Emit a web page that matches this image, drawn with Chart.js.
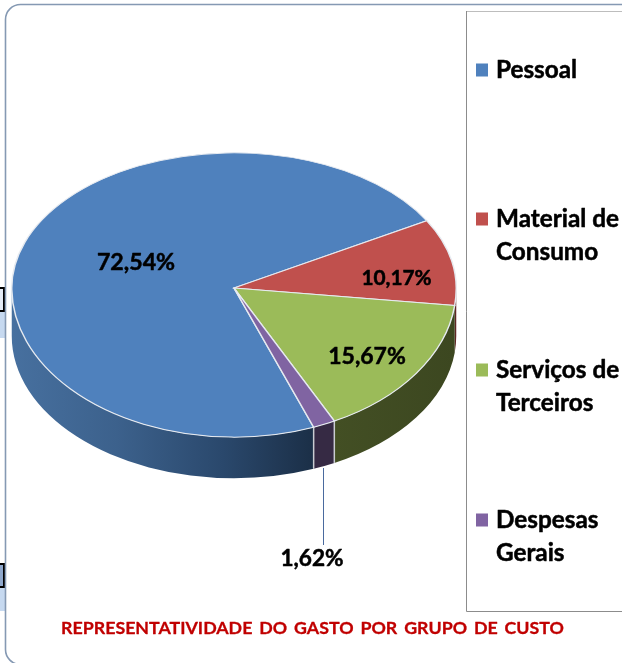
<!DOCTYPE html>
<html>
<head>
<meta charset="utf-8">
<style>html,body{margin:0;padding:0;background:#fff;overflow:hidden}canvas{display:block}</style>
<script src="https://cdn.jsdelivr.net/npm/chart.js@4"></script>
</head>
<body>
<canvas id="c" width="622" height="663"></canvas>
<script>
const categories = ['Pessoal', 'Material de Consumo', 'Serviços de Terceiros', 'Despesas Gerais'];
const shares = [72.54, 10.17, 15.67, 1.62];
const legendLines = [['Pessoal'], ['Material de', 'Consumo'], ['Serviços de', 'Terceiros'], ['Despesas', 'Gerais']];
const titleText = 'REPRESENTATIVIDADE DO GASTO POR GRUPO DE CUSTO';

const topColors = ['#4f81bd', '#c0504d', '#9bbb59', '#8064a2'];
const sideStops = [
  [[0, '#47709f'], [0.35, '#3c618c'], [0.7, '#2a486c'], [1, '#1b2f47']],
  [[0, '#5e2624'], [1, '#5e2624']],
  [[0, '#3c4720'], [1, '#434f24']],
  [[0, '#362a44'], [1, '#362a44']]
];
const FONT = 'Lato, Carlito, sans-serif';
const labelBoxes = [{x:136,y:263,s:23.2},{x:396.5,y:278,s:20.8},{x:367,y:357,s:23},{x:312,y:559,s:22.6}];
const legendRows = [70.5, 219.5, 370.5, 520.5];

function boldText(ctx, t, x, y, w) {
  ctx.lineWidth = w;
  ctx.lineJoin = 'round';
  ctx.strokeStyle = ctx.fillStyle;
  ctx.strokeText(t, x, y);
  ctx.fillText(t, x, y);
}

const fauxPie = {
  id: 'fauxPie',
  beforeDraw(chart) {
    const ctx = chart.ctx;
    ctx.save();
    ctx.fillStyle = '#fff';
    ctx.fillRect(0, 0, 622, 663);
    // fragments of neighbouring shapes at the left edge
    ctx.fillStyle = '#c6d9f0'; ctx.fillRect(0, 312, 5, 26); ctx.fillRect(0, 588, 5, 23);
    ctx.fillStyle = '#e4ebf5'; ctx.fillRect(0, 288, 3, 23);
    ctx.fillStyle = '#8fa8cc'; ctx.fillRect(0, 564, 3, 23);
    ctx.fillStyle = '#000';
    [[287, 312], [563, 588]].forEach(([a, b]) => {
      ctx.fillRect(0, a, 4, 2); ctx.fillRect(0, b - 2, 4, 2); ctx.fillRect(3, a, 2, b - a);
    });
    // outer frame
    ctx.strokeStyle = '#8599b3'; ctx.lineWidth = 1.6;
    ctx.beginPath(); ctx.roundRect(5.5, 4.5, 720, 660, 15); ctx.stroke();
    // legend frame
    ctx.strokeStyle = '#bdbdbd'; ctx.lineWidth = 1;
    ctx.beginPath(); ctx.moveTo(466, 11.5); ctx.lineTo(622, 11.5); ctx.stroke();
    ctx.strokeStyle = '#8c8c8c';
    ctx.beginPath(); ctx.moveTo(466.5, 11); ctx.lineTo(466.5, 611.5); ctx.lineTo(622, 611.5); ctx.stroke();
    ctx.restore();
  },
  beforeDatasetsDraw(chart) {
    const ctx = chart.ctx;
    const arcs = chart.getDatasetMeta(0).data;
    const cx = arcs[0].x, cy = arcs[0].y, r = arcs[0].outerRadius;
    const ryTop = r * 0.608, ryBottom = r * 0.671;
    const depthCy = cy + 48, depthRy = r * 0.64;
    const TAU = Math.PI * 2;

    // extruded rim, from the library's computed arc angles
    ctx.save();
    arcs.forEach((arc, i) => {
      let a = arc.startAngle % TAU, b = arc.endAngle % TAU;
      if (a < 0) a += TAU;
      if (b < 0) b += TAU;
      const ranges = a < b ? [[a, b]] : [[a, TAU], [0, b]];
      ranges.forEach(([s, e]) => {
        const s2 = Math.min(s, Math.PI), e2 = Math.min(e, Math.PI);
        if (e2 <= s2) return;
        const g = ctx.createLinearGradient(cx + r * Math.cos(s2), 0, cx + r * Math.cos(e2), 0);
        const stops = sideStops[i];
        const reversed = i === 0;
        stops.forEach(([p, c]) => g.addColorStop(reversed ? 1 - p : p, c));
        ctx.fillStyle = g;
        ctx.beginPath();
        ctx.ellipse(cx, cy, r, ryBottom, 0, s2, e2);
        ctx.ellipse(cx, depthCy, r, depthRy, 0, e2, s2, true);
        ctx.closePath();
        ctx.fill();
      });
    });
    // separators on the rim
    ctx.strokeStyle = '#c9ccd2'; ctx.lineWidth = 1.5;
    arcs.forEach(arc => {
      let a = arc.startAngle % TAU;
      if (a < 0) a += TAU;
      if (a > 0.4 && a < Math.PI) {
        const x = cx + r * Math.cos(a);
        ctx.beginPath();
        ctx.moveTo(x, cy + ryBottom * Math.sin(a));
        ctx.lineTo(x, depthCy + depthRy * Math.sin(a));
        ctx.stroke();
      }
    });
    ctx.restore();

    // top face: library arcs, drawn through a flattening transform
    [[0, cy, ryTop], [cy, 663, ryBottom]].forEach(([y0, y1, ry]) => {
      ctx.save();
      ctx.beginPath(); ctx.rect(0, y0, 622, y1 - y0); ctx.clip();
      ctx.translate(cx, cy); ctx.scale(1, ry / r); ctx.translate(-cx, -cy);
      arcs.forEach(arc => arc.draw(ctx));
      ctx.restore();
    });
    return false;
  },
  afterDraw(chart) {
    const ctx = chart.ctx;
    const data = chart.data.datasets[0].data;
    ctx.save();
    // leader line
    ctx.strokeStyle = '#4a6a9e'; ctx.lineWidth = 1;
    ctx.beginPath(); ctx.moveTo(323.5, 468); ctx.lineTo(323.5, 545); ctx.stroke();
    ctx.textAlign = 'center'; ctx.textBaseline = 'middle'; ctx.fillStyle = '#000';
    data.forEach((v, i) => {
      const b = labelBoxes[i];
      ctx.font = 'bold ' + b.s + 'px ' + FONT;
      boldText(ctx, v.toFixed(2).replace('.', ',') + '%', b.x, b.y, 0.5);
    });
    // legend
    ctx.textAlign = 'left';
    legendLines.forEach((lines, i) => {
      const y = legendRows[i];
      ctx.fillStyle = topColors[i];
      ctx.fillRect(476, y - 7, 12, 13);
      ctx.fillStyle = '#000';
      ctx.font = 'bold 24.3px ' + FONT;
      lines.forEach((t, k) => boldText(ctx, t, 496, y + k * 33, 0.5));
    });
    // title
    ctx.textAlign = 'center';
    ctx.fillStyle = '#c00000';
    ctx.font = 'bold 17.8px ' + FONT;
    ctx.wordSpacing = '2.6px';
    boldText(ctx, titleText, 312.5, 628, 0.3);
    ctx.restore();
  }
};

new Chart(document.getElementById('c'), {
  type: 'pie',
  data: {
    labels: categories,
    datasets: [{
      data: shares,
      backgroundColor: topColors,
      borderColor: '#e6eaf0',
      borderWidth: 1.5,
      borderJoinStyle: 'miter'
    }]
  },
  options: {
    responsive: false,
    animation: false,
    rotation: 159,
    layout: { padding: { left: 11, right: 165, top: 65, bottom: 152 } },
    plugins: { legend: { display: false }, tooltip: { enabled: false }, title: { display: false } }
  },
  plugins: [fauxPie]
});
</script>
</body>
</html>
